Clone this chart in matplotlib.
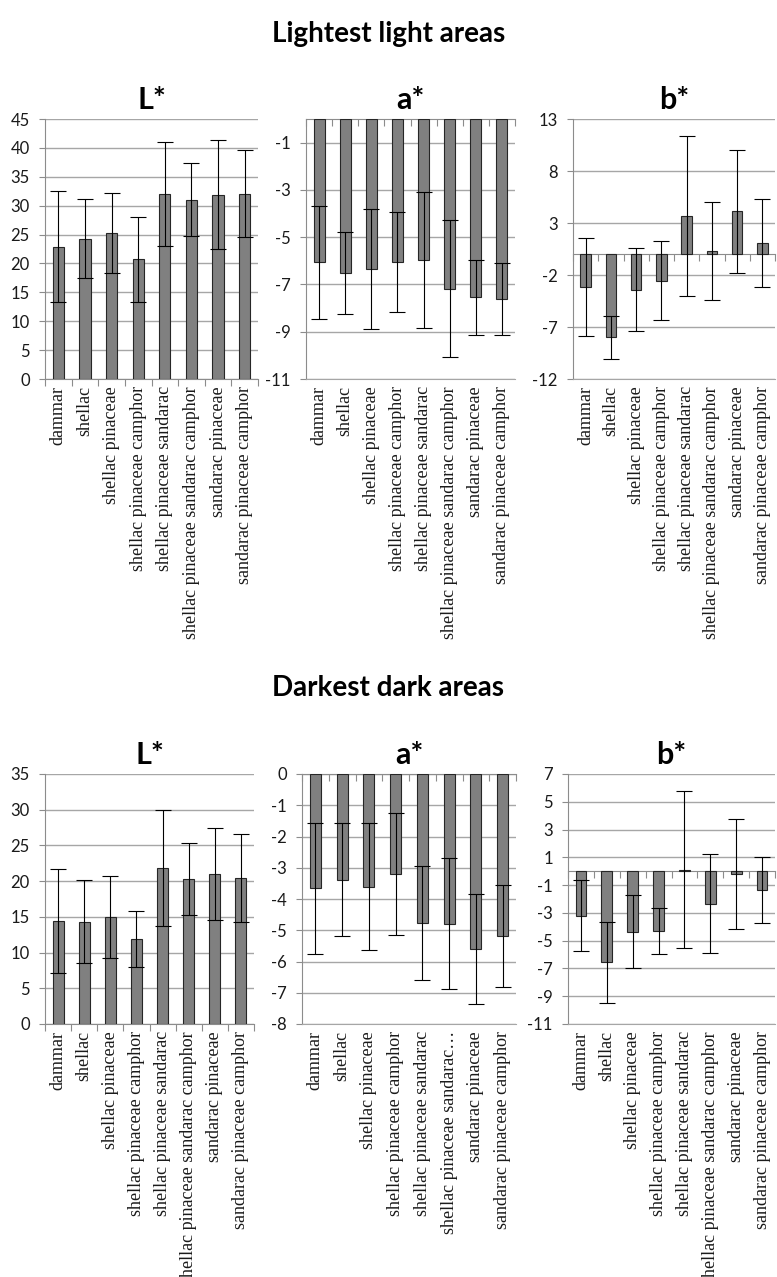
import matplotlib
matplotlib.use("Agg")
import matplotlib.pyplot as plt
import numpy as np

# ---------------- data ----------------
categories = ["dammar", "shellac", "shellac pinaceae", "shellac pinaceae camphor",
              "shellac pinaceae sandarac", "shellac pinaceae sandarac camphor",
              "sandarac pinaceae", "sandarac pinaceae camphor"]
categories_dark_a = ["dammar", "shellac", "shellac pinaceae", "shellac pinaceae camphor",
                     "shellac pinaceae sandarac", "shellac pinaceae sandarac\u2026",
                     "sandarac pinaceae", "sandarac pinaceae camphor"]

light_L = [22.9, 24.3, 25.3, 20.7, 32.0, 31.0, 31.9, 32.1]
light_L_err = [9.6, 6.9, 6.9, 7.3, 9.0, 6.3, 9.4, 7.5]
light_a = [-6.06, -6.52, -6.35, -6.05, -5.96, -7.18, -7.55, -7.62]
light_a_err = [2.4, 1.72, 2.55, 2.13, 2.87, 2.91, 1.57, 1.52]
light_b = [-3.18, -8.0, -3.4, -2.54, 3.66, 0.32, 4.14, 1.09]
light_b_err = [4.7, 2.1, 3.95, 3.8, 7.7, 4.73, 5.9, 4.25]

dark_L = [14.4, 14.3, 14.95, 11.87, 21.8, 20.3, 21.0, 20.4]
dark_L_err = [7.25, 5.8, 5.75, 3.9, 8.1, 5.05, 6.45, 6.15]
dark_a = [-3.66, -3.38, -3.61, -3.21, -4.77, -4.79, -5.6, -5.18]
dark_a_err = [2.1, 1.8, 2.03, 1.95, 1.82, 2.1, 1.76, 1.64]
dark_b = [-3.19, -6.57, -4.36, -4.29, 0.1, -2.33, -0.19, -1.36]
dark_b_err = [2.55, 2.93, 2.62, 1.65, 5.65, 3.57, 3.94, 2.39]

# axis ranges (min, max, step)
light_L_axis = (0, 45, 5)
light_a_axis = (-11, 0, 2)
light_b_axis = (-12, 13, 5)
dark_L_axis = (0, 35, 5)
dark_a_axis = (-8, 0, 1)
dark_b_axis = (-11, 7, 2)

group_titles = ["Lightest light areas", "Darkest dark areas"]
panel_titles = ["L*", "a*", "b*"]

# ---------------- style ----------------
W, H = 777, 1277
fig = plt.figure(figsize=(W / 100, H / 100), dpi=100)
fig.patch.set_facecolor("white")

SANS = ["Lato", "DejaVu Sans"]
SERIF = ["Liberation Serif", "DejaVu Serif"]
BAR_COLOR = "#808080"
EDGE = "#262626"
GRID = "#a6a6a6"
SPINE = "#8c8c8c"


def px_rect(l, t, r, b):
    return [l / W, 1 - b / H, (r - l) / W, (b - t) / H]


def draw_panel(rect, values, errs, axis, title, labels):
    ax = fig.add_axes(rect)
    lo, hi, step = axis
    zero_inside = lo != 0
    # position the category axis (zero line) first, so tick settings survive
    if zero_inside:
        ax.spines["top"].set_position(("data", 0))
        ax.spines["top"].set_color(SPINE)
    else:
        ax.spines["top"].set_visible(False)
    ax.spines["right"].set_visible(False)
    ax.spines["left"].set_color(SPINE)
    ax.spines["bottom"].set_color(SPINE if not zero_inside else GRID)

    x = np.arange(len(values))
    ax.bar(x, values, width=0.42, color=BAR_COLOR, edgecolor=EDGE, linewidth=0.8, zorder=3)
    ax.errorbar(x, values, yerr=errs, fmt="none", ecolor="black", elinewidth=0.8,
                capsize=5.5, capthick=0.8, zorder=4)
    ax.set_ylim(lo, hi)
    ax.set_xlim(-0.5, len(values) - 0.5)
    ticks = np.arange(lo, hi + 1e-9, step)
    ax.set_yticks(ticks)
    ax.set_yticklabels([f"{t:g}" for t in ticks], fontfamily=SANS, fontsize=12, color="#1a1a1a")
    ax.yaxis.grid(True, color=GRID, linewidth=1.0, zorder=0)
    ax.set_axisbelow(True)
    ax.tick_params(axis="y", direction="out", length=4, width=0.8, color=SPINE, pad=7)

    ax.set_xticks(x)
    ax.set_xticklabels(labels, rotation=90, fontfamily=SERIF, fontsize=13, color="#1a1a1a",
                       va="top", ha="center")
    ax.set_xticks(np.arange(-0.5, len(values)), minor=True)

    if not zero_inside:
        ax.tick_params(axis="x", which="major", length=0, pad=5)
        ax.tick_params(axis="x", which="minor", bottom=True, top=False, direction="out",
                       length=5, width=0.8, color=SPINE)
    else:
        ax.tick_params(axis="x", which="major", bottom=True, top=False, length=0, pad=5,
                       labelbottom=True, labeltop=False)
        ax.tick_params(axis="x", which="minor", bottom=False, top=True, direction="in",
                       length=5, width=0.8, color=SPINE)
    ax.set_title(title, fontfamily=SANS, fontweight="bold", fontsize=22, pad=7)
    return ax


rows = [
    dict(title=group_titles[0], title_y=34,
         rects=[px_rect(45, 119, 258, 379), px_rect(306, 119, 515, 379), px_rect(573, 119, 775, 379)],
         data=[(light_L, light_L_err, light_L_axis, categories),
               (light_a, light_a_err, light_a_axis, categories),
               (light_b, light_b_err, light_b_axis, categories)]),
    dict(title=group_titles[1], title_y=688,
         rects=[px_rect(45, 774, 254, 1024), px_rect(302, 774, 516, 1024), px_rect(568, 774, 775, 1024)],
         data=[(dark_L, dark_L_err, dark_L_axis, categories),
               (dark_a, dark_a_err, dark_a_axis, categories_dark_a),
               (dark_b, dark_b_err, dark_b_axis, categories)]),
]

for row in rows:
    fig.text(0.5, 1 - row["title_y"] / H, row["title"], ha="center", va="center",
             fontfamily=SANS, fontweight="bold", fontsize=20)
    for rect, (vals, errs, axis, labels), pt in zip(row["rects"], row["data"], panel_titles):
        draw_panel(rect, vals, errs, axis, pt, labels)

fig.savefig("out.png", dpi=100, facecolor="white")
